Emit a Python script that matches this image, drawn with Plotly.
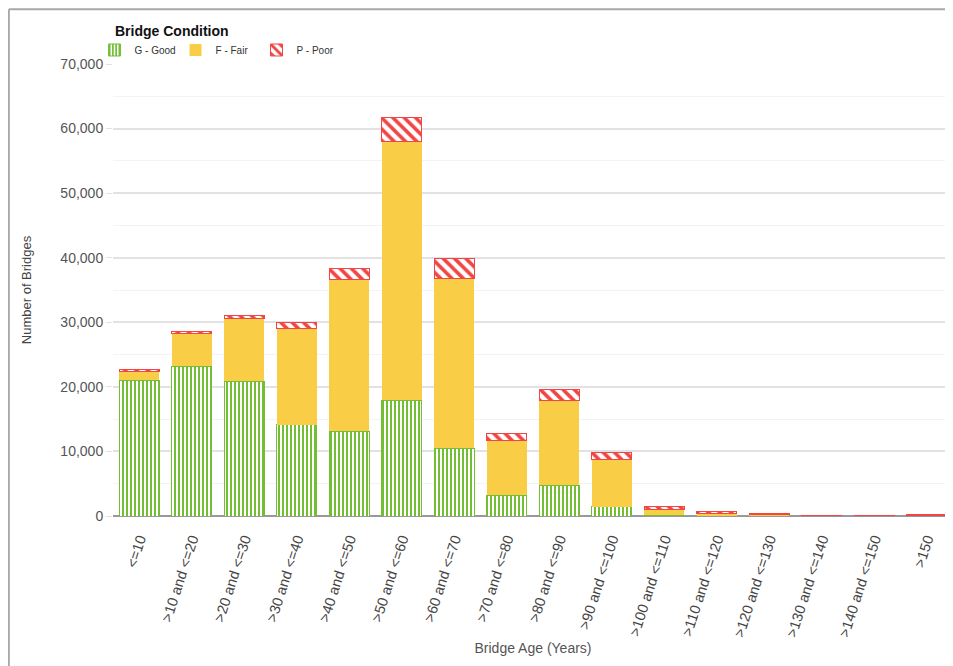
import plotly.graph_objects as go

age_bins = ["<=10", ">10 and <=20", ">20 and <=30", ">30 and <=40", ">40 and <=50",
            ">50 and <=60", ">60 and <=70", ">70 and <=80", ">80 and <=90", ">90 and <=100",
            ">100 and <=110", ">110 and <=120", ">120 and <=130", ">130 and <=140",
            ">140 and <=150", ">150"]
good = [21000, 23200, 20900, 14100, 13150, 17950, 10500, 3250, 4800, 1400,
        150, 50, 30, 10, 5, 20]
fair = [1400, 5100, 9750, 15000, 23550, 40100, 26350, 8500, 13150, 7300,
        900, 300, 250, 80, 50, 120]
poor = [300, 300, 450, 800, 1700, 3700, 3100, 1100, 1700, 1200,
        450, 300, 170, 60, 40, 60]

GREEN = "#74BE36"
YELLOW = "#FACD46"
RED = "#F04646"
FONT = "Liberation Sans, Arial, sans-serif"

fig = go.Figure()
fig.add_trace(go.Bar(
    x=age_bins, y=good, name="G - Good",
    marker=dict(color="white", line=dict(color=GREEN, width=1),
                pattern=dict(shape="|", fgcolor=GREEN, bgcolor="white", size=4, solidity=0.5,
                             fgopacity=1)),
))
fig.add_trace(go.Bar(
    x=age_bins, y=fair, name="F - Fair",
    marker=dict(color=YELLOW, line=dict(width=0)),
))
fig.add_trace(go.Bar(
    x=age_bins, y=poor, name="P - Poor",
    marker=dict(color="white", line=dict(color=RED, width=1),
                pattern=dict(shape="\\", fgcolor=RED, bgcolor="white", size=8, solidity=0.45,
                             fgopacity=1)),
))

# frame around the chart (left and top edges visible in the picture)
fig.add_shape(type="line", xref="paper", yref="paper", x0=-0.124, x1=-0.124, y0=-0.35, y1=1.121,
              line=dict(color="#a8a8a8", width=2))
fig.add_shape(type="line", xref="paper", yref="paper", x0=-0.124, x1=1.01, y0=1.121, y1=1.121,
              line=dict(color="#a8a8a8", width=2))

fig.update_layout(
    barmode="stack",
    bargap=0.24,
    width=945, height=658,
    margin=dict(l=105, r=0, t=56, b=150),
    paper_bgcolor="white",
    plot_bgcolor="white",
    font=dict(family=FONT, color="#444"),
    title=dict(text="<b>Bridge Condition</b>", x=107 / 945, xanchor="left",
               y=1 - 23 / 658, yanchor="middle",
               font=dict(size=14, color="#111", family=FONT)),
    legend=dict(orientation="h", x=-0.022, xanchor="left", y=1.031, yanchor="middle",
                font=dict(size=10, color="#333"), traceorder="normal",
                itemwidth=30, entrywidth=36, bgcolor="rgba(0,0,0,0)"),
    xaxis=dict(tickangle=-72, tickfont=dict(size=14.5, color="#444"),
               title=dict(text="Bridge Age (Years)", font=dict(size=14, color="#555"), standoff=5),
               showgrid=False, showline=False, ticks="outside", ticklen=8, tickcolor="rgba(0,0,0,0)"),
    yaxis=dict(range=[0, 70000], dtick=10000, tickformat=",", tickfont=dict(size=14, color="#555"),
               title=dict(text="Number of Bridges", font=dict(size=13, color="#444"), standoff=25),
               gridcolor="#e2e2e2", gridwidth=1.5,
               minor=dict(dtick=5000, showgrid=True, gridcolor="#f3f3f3", gridwidth=1),
               zeroline=True, zerolinecolor="#999", zerolinewidth=2,
               ticks="outside", ticklen=6, tickcolor="#e2e2e2"),
)

fig.write_html("out.html")
